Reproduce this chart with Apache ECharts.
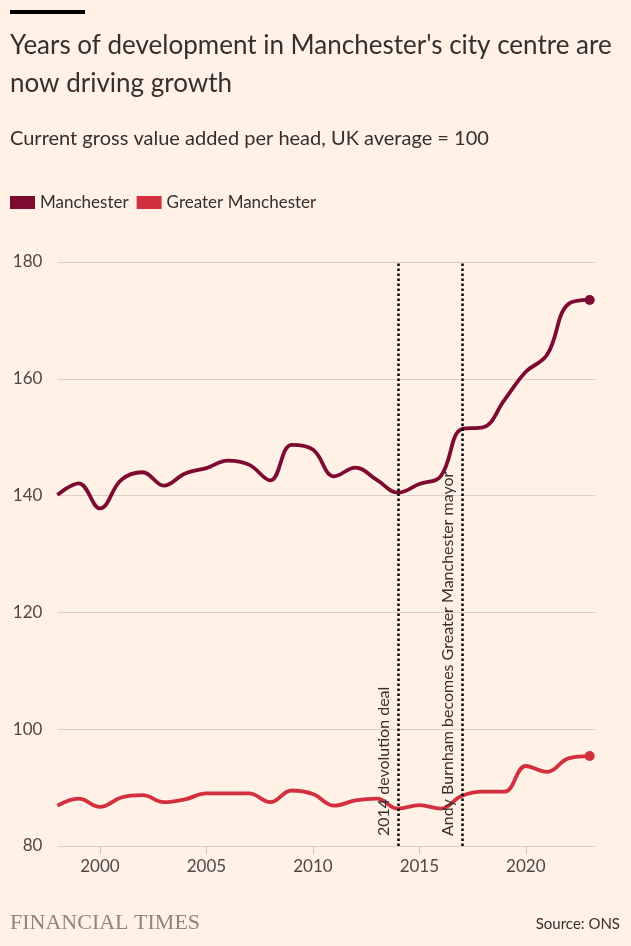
<!DOCTYPE html>
<html>
<head>
<meta charset="utf-8">
<script src="https://cdn.jsdelivr.net/npm/echarts@6/dist/echarts.min.js"></script>
<style>
html,body{margin:0;padding:0;background:#FFF1E5;}
#c{width:631px;height:946px;}
</style>
</head>
<body>
<div id="c"></div>
<script>
const years = [1998,1999,2000,2001,2002,2003,2004,2005,2006,2007,2008,2009,2010,2011,2012,2013,2014,2015,2016,2017,2018,2019,2020,2021,2022,2023];
const manchester = [140.1,142.1,137.8,142.7,144.0,141.7,143.8,144.7,146.0,145.3,142.6,148.7,147.9,143.3,144.8,142.7,140.5,142.0,143.3,151.4,151.7,156.4,161.2,164.1,172.8,173.5];
const greaterManchester = [86.9,88.1,86.7,88.3,88.7,87.5,88.0,89.0,89.0,89.0,87.5,89.5,88.9,86.9,87.8,88.1,86.4,87.0,86.4,88.6,89.3,89.3,93.7,92.7,95.0,95.4];
const xTickLabels = [2000,2005,2010,2015,2020];
const eventYears = [2014,2017];
const eventLabels = ['2014 devolution deal','Andy Burnham becomes Greater Manchester mayor'];
const seriesNames = ['Manchester','Greater Manchester'];

const COL_M = '#7d0a31';
const COL_G = '#d3303f';
const FONT = 'Lato, "Noto Sans", sans-serif';

const chart = echarts.init(document.getElementById('c'), null, {renderer:'canvas'});
const pairs = (arr) => years.map((y,i)=>[y,arr[i]]);
const last = (arr) => [[years[years.length-1], arr[arr.length-1]]];

const option = {
  backgroundColor:'#FFF1E5',
  animation:false,
  textStyle:{fontFamily:FONT},
  graphic:[
    {type:'rect',left:10,top:10,shape:{width:75,height:4},style:{fill:'#000'}},
    {type:'text',left:10,top:27,style:{text:"Years of development in Manchester's city centre are\nnow driving growth",font:'26px '+FONT,fill:'#33302E',lineHeight:38}},
    {type:'text',left:10,top:129,style:{text:'Current gross value added per head, UK average = 100',font:'20px '+FONT,fill:'#33302E'}},
    {type:'text',left:10,top:912,style:{text:'FINANCIAL TIMES',font:'22px "Liberation Serif", "DejaVu Serif", serif',fill:'#8c8580'}},
    {type:'text',right:11,top:917,style:{text:'Source: ONS',font:'15px '+FONT,fill:'#33302E'}}
  ],
  legend:{
    left:10, top:194, itemWidth:25, itemHeight:13, itemGap:8, padding:0,
    icon:'rect',
    textStyle:{fontSize:17,color:'#33302E',fontFamily:FONT,padding:[0,0,0,0]},
    data:[
      {name:seriesNames[0],itemStyle:{color:COL_M,borderWidth:0}},
      {name:seriesNames[1],itemStyle:{color:COL_G,borderWidth:0}}
    ]
  },
  grid:{left:57.4,right:36,top:262,bottom:100,containLabel:false},
  xAxis:{
    type:'value', min:1998, max:2023.25,
    axisLine:{show:false},
    splitLine:{show:false},
    axisTick:{show:true,length:8,lineStyle:{color:'#cdc3ba'},customValues:xTickLabels},
    axisLabel:{customValues:xTickLabels,fontSize:17,color:'#4d4845',margin:12,fontFamily:FONT,formatter:(v)=>String(v)}
  },
  yAxis:{
    type:'value', min:80, max:180, interval:20,
    axisLine:{show:false}, axisTick:{show:false},
    splitLine:{lineStyle:{color:'#d9cfc6',width:1}},
    axisLabel:{fontSize:17,color:'#4d4845',margin:15,fontFamily:FONT}
  },
  series:[
    {
      name:seriesNames[0], type:'line', data:pairs(manchester), smooth:0.4, showSymbol:false,
      lineStyle:{color:COL_M,width:3.8}, itemStyle:{color:COL_M}, z:3,
      markLine:{
        silent:true, symbol:['none','none'], animation:false,
        lineStyle:{color:'#000',type:[2.5,2.5],width:2.5},
        label:{show:true,position:'insideStartTop',color:'#33302E',fontSize:16,fontFamily:FONT,distance:[10,6],formatter:'{b}'},
        data:eventYears.map((y,i)=>[{name:eventLabels[i],coord:[y,80]},{coord:[y,180]}])
      }
    },
    {
      name:seriesNames[1], type:'line', data:pairs(greaterManchester), smooth:0.4, showSymbol:false,
      lineStyle:{color:COL_G,width:3.8}, itemStyle:{color:COL_G}, z:3
    },
    {name:seriesNames[0]+' end', type:'scatter', data:last(manchester), symbolSize:10, itemStyle:{color:COL_M,opacity:1}, z:4},
    {name:seriesNames[1]+' end', type:'scatter', data:last(greaterManchester), symbolSize:10, itemStyle:{color:COL_G,opacity:1}, z:4}
  ]
};
chart.setOption(option);
</script>
</body>
</html>
